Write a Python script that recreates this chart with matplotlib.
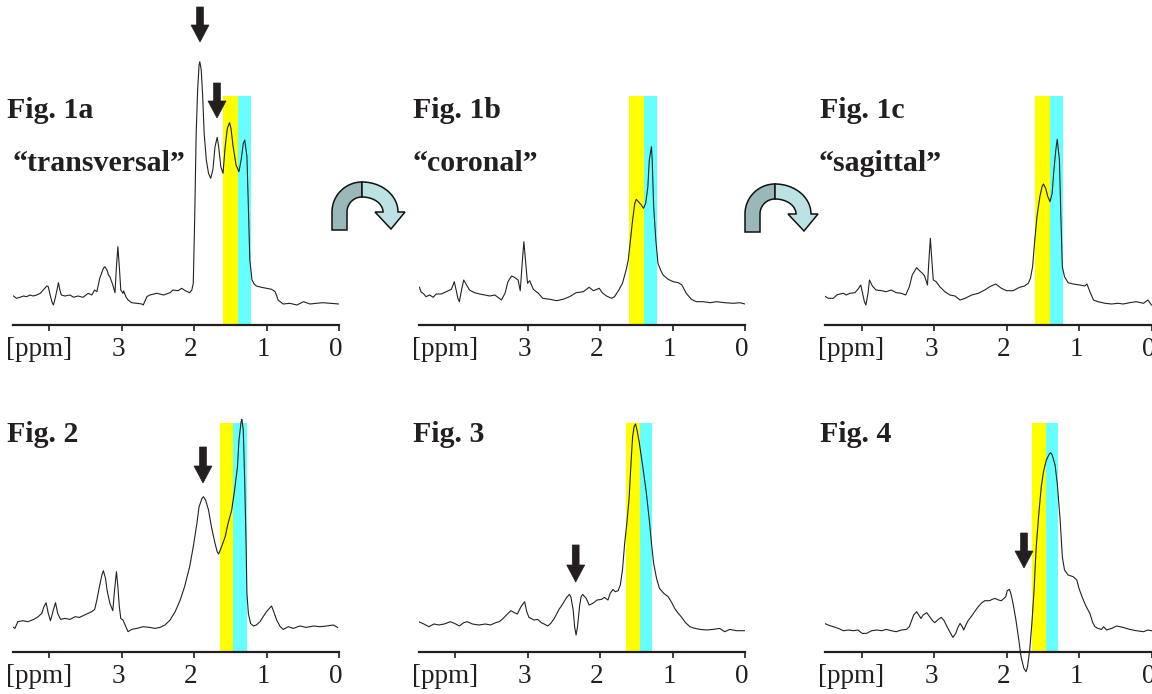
import numpy as np
import matplotlib.pyplot as plt
from matplotlib.patches import Polygon
import matplotlib.transforms as mtransforms

W, H = 1152, 694

# chemical shift [ppm] and signal height (pixels above the baseline)
ppm_1a = [4.49, 4.45, 4.40, 4.35, 4.31, 4.26, 4.22, 4.17, 4.12, 4.08, 4.03, 4.01, 3.99, 3.96,
          3.94, 3.92, 3.89, 3.87, 3.85, 3.83, 3.78, 3.71, 3.66, 3.60, 3.53, 3.46, 3.41, 3.37,
          3.34, 3.30, 3.25, 3.23, 3.20, 3.18, 3.16, 3.12, 3.09, 3.07, 3.05, 3.03, 3.01, 2.98,
          2.97, 2.94, 2.91, 2.86, 2.79, 2.72, 2.70, 2.65, 2.61, 2.51, 2.42, 2.33, 2.29, 2.22,
          2.17, 2.12, 2.06, 2.03, 2.01, 1.99, 1.97, 1.95, 1.93, 1.92, 1.90, 1.88, 1.86, 1.83,
          1.80, 1.77, 1.74, 1.71, 1.68, 1.66, 1.63, 1.60, 1.57, 1.54, 1.51, 1.49, 1.46, 1.42,
          1.38, 1.35, 1.32, 1.30, 1.27, 1.25, 1.23, 1.20, 1.17, 1.14, 1.07, 1.00, 0.93, 0.88,
          0.84, 0.77, 0.68, 0.58, 0.49, 0.40, 0.31, 0.22, 0.12, 0.00]
int_1a = [29, 26.7, 27.7, 29, 28.3, 30, 29, 30, 31.7, 35, 39, 38.3, 31.7, 23.3,
          20, 25, 35, 42.3, 35, 30, 29, 30, 27.7, 29, 27.7, 31.7, 30, 35,
          33.3, 46.7, 56.7, 58.3, 55, 50, 48.3, 40, 32.3, 58.3, 78.3, 58.3, 35, 31.7,
          34, 28.3, 25, 22.3, 21.7, 21, 20, 28.3, 30, 31.7, 30, 32.3, 35, 34.3,
          36.7, 34.3, 32.3, 35, 41.7, 108, 191.7, 235, 260, 263.3, 255, 228.3, 191.7, 165,
          151.7, 146.7, 155, 178.3, 187.7, 178.3, 158.3, 151.7, 178.3, 196.7, 202.3, 196.7, 178.3, 160,
          153.3, 165, 181.7, 185, 168.3, 118.3, 65, 45, 41, 39, 37.7, 36.7, 35.7, 33.3,
          25, 21, 21.7, 20, 23.3, 21, 21.7, 22.3, 21.7, 21]

ppm_1b = [4.49, 4.47, 4.43, 4.40, 4.35, 4.30, 4.26, 4.19, 4.12, 4.05, 4.01, 3.99, 3.96, 3.94,
          3.91, 3.88, 3.84, 3.80, 3.73, 3.66, 3.59, 3.52, 3.45, 3.39, 3.36, 3.31, 3.27, 3.22,
          3.18, 3.13, 3.10, 3.07, 3.05, 3.02, 3.00, 2.97, 2.92, 2.85, 2.79, 2.69, 2.60, 2.51,
          2.42, 2.33, 2.23, 2.15, 2.09, 2.01, 1.97, 1.91, 1.84, 1.80, 1.74, 1.69, 1.64, 1.61,
          1.58, 1.55, 1.52, 1.50, 1.47, 1.43, 1.40, 1.37, 1.34, 1.32, 1.29, 1.28, 1.26, 1.23,
          1.20, 1.16, 1.13, 1.06, 0.99, 0.92, 0.87, 0.81, 0.74, 0.67, 0.58, 0.48, 0.39, 0.28,
          0.16, 0.07, 0.00]
int_1b = [37.7, 33.3, 31, 28.3, 30, 27.7, 31, 31, 33.3, 35.7, 43.3, 36.7, 26.7, 23.3,
          35, 45, 40, 35, 32.3, 31, 30, 29, 30, 26.7, 25, 31.7, 43.3, 49,
          47.7, 45, 34.3, 65, 83.3, 58.3, 41.7, 44.3, 35.7, 31.7, 26.7, 25.7, 24.3, 25.7,
          28.3, 32.3, 33.3, 37.7, 34.3, 36.7, 32.3, 29, 26.7, 28.3, 35, 41.7, 55, 65,
          85, 105, 121.7, 125.7, 123.3, 120, 116.7, 121.7, 138.3, 165, 178.3, 165, 118.3, 85,
          61.7, 54.3, 50, 45.7, 43.3, 42.3, 40, 31.7, 25.7, 23.3, 23.3, 22.3, 23.3, 22.3,
          21.7, 22.3, 21]

ppm_1c = [4.51, 4.46, 4.39, 4.34, 4.30, 4.25, 4.21, 4.16, 4.09, 4.05, 4.01, 3.99, 3.96, 3.94,
          3.91, 3.89, 3.85, 3.80, 3.72, 3.66, 3.59, 3.52, 3.45, 3.39, 3.34, 3.30, 3.24, 3.20,
          3.16, 3.13, 3.09, 3.07, 3.05, 3.03, 3.01, 2.97, 2.92, 2.85, 2.78, 2.71, 2.64, 2.57,
          2.48, 2.39, 2.30, 2.23, 2.15, 2.07, 2.00, 1.91, 1.82, 1.75, 1.70, 1.67, 1.64, 1.61,
          1.58, 1.54, 1.51, 1.49, 1.46, 1.43, 1.40, 1.37, 1.35, 1.32, 1.30, 1.27, 1.25, 1.23,
          1.20, 1.15, 1.08, 0.99, 0.92, 0.89, 0.85, 0.80, 0.74, 0.64, 0.55, 0.46, 0.39, 0.30,
          0.21, 0.11, 0.05, 0.00]
int_1c = [29, 26.7, 26.7, 30, 31, 31.7, 30, 31.7, 32.3, 35.7, 40, 33.3, 23.3, 20,
          31.7, 45, 39, 35, 34.3, 33.3, 35, 32.3, 31.7, 30, 38.3, 50, 57.3, 54.3,
          51.7, 49, 40, 65, 86.7, 65, 45, 43.3, 38.3, 33.3, 30, 29, 25, 26.7,
          30, 31.7, 35, 38.3, 41, 36.7, 34.3, 34.3, 37.7, 39, 41.7, 46.7, 58.3, 85,
          108.3, 128.3, 138.3, 141, 136.7, 128.3, 123.3, 131.7, 151.7, 175, 185.7, 165, 108.3, 58.3,
          48.3, 42.3, 41, 40, 39, 41, 33.3, 25, 23.3, 21.7, 21, 21.7, 21, 22.3,
          23.3, 21.7, 25, 20]

ppm_2 = [4.52, 4.47, 4.43, 4.36, 4.29, 4.21, 4.15, 4.10, 4.07, 4.04, 4.01, 3.98, 3.94, 3.91,
         3.88, 3.84, 3.78, 3.71, 3.64, 3.58, 3.51, 3.41, 3.37, 3.34, 3.30, 3.27, 3.25, 3.22,
         3.20, 3.16, 3.12, 3.10, 3.07, 3.05, 3.03, 3.01, 2.98, 2.94, 2.91, 2.86, 2.79, 2.70,
         2.61, 2.54, 2.47, 2.40, 2.33, 2.26, 2.19, 2.13, 2.06, 2.01, 1.96, 1.93, 1.89, 1.87,
         1.84, 1.80, 1.76, 1.71, 1.68, 1.66, 1.62, 1.57, 1.53, 1.48, 1.44, 1.40, 1.38, 1.35,
         1.34, 1.32, 1.30, 1.28, 1.27, 1.25, 1.22, 1.18, 1.14, 1.09, 1.04, 1.00, 0.96, 0.93,
         0.90, 0.86, 0.81, 0.77, 0.70, 0.63, 0.54, 0.45, 0.35, 0.26, 0.17, 0.08, 0.02]
int_2 = [25.7, 23.3, 30, 31, 30, 32.3, 35, 38.3, 45, 49, 38.3, 31, 41.7, 49,
         38.3, 32.3, 33.3, 32.3, 35, 34.3, 36.7, 40, 42.3, 51.7, 66.7, 76.7, 81, 73.3,
         61.7, 48.3, 41, 58.3, 80, 65, 45, 33.3, 31.7, 25, 20, 22.3, 23.3, 25,
         24.3, 23.3, 24.3, 26.7, 31.7, 40, 51.7, 65, 85, 105, 128.3, 145, 153.3, 155,
         151.7, 141.7, 125, 108.3, 100, 97.7, 105, 115, 128.3, 141.7, 161.7, 185, 211.7, 230,
         232.3, 221.7, 168.3, 101.7, 58.3, 38.3, 28.3, 25.7, 26.7, 30, 35.7, 40, 43.3, 45.7,
         40, 31.7, 25, 22.3, 25, 23.3, 25.7, 24.3, 25.7, 25, 25.7, 26.7, 24.3]

ppm_3 = [4.50, 4.43, 4.36, 4.29, 4.22, 4.15, 4.06, 3.99, 3.94, 3.88, 3.83, 3.76, 3.67, 3.58,
         3.51, 3.44, 3.39, 3.35, 3.29, 3.23, 3.18, 3.14, 3.09, 3.04, 3.01, 2.98, 2.91, 2.86,
         2.81, 2.77, 2.72, 2.68, 2.63, 2.57, 2.51, 2.46, 2.42, 2.40, 2.37, 2.35, 2.33, 2.31,
         2.28, 2.26, 2.24, 2.19, 2.15, 2.10, 2.04, 1.98, 1.94, 1.89, 1.86, 1.82, 1.79, 1.75,
         1.72, 1.69, 1.66, 1.63, 1.60, 1.57, 1.55, 1.53, 1.51, 1.49, 1.46, 1.43, 1.40, 1.36,
         1.32, 1.29, 1.26, 1.22, 1.18, 1.12, 1.06, 1.01, 0.97, 0.92, 0.88, 0.82, 0.76, 0.69,
         0.62, 0.53, 0.44, 0.35, 0.28, 0.21, 0.12, -0.02]
int_3 = [30, 27.7, 25, 27.7, 26.7, 27.7, 30, 27.7, 25.7, 29, 30, 27.7, 26.7, 27.7,
         26.7, 29, 30, 32.3, 36.7, 41, 39, 37.7, 45, 50, 40, 34.3, 31.7, 32.3,
         29, 27.7, 25.7, 28.3, 33.3, 41.7, 48.3, 54.3, 57.3, 54.3, 41.7, 25, 16.7, 25,
         46.7, 55, 57.3, 53.3, 46.7, 48.3, 51.7, 52.3, 54.3, 51.7, 58.3, 62.3, 60, 61,
         66.7, 81.7, 108.3, 128.3, 151.7, 191.7, 215, 225, 227.7, 221.7, 210, 195, 180, 158.3,
         131.7, 108.3, 88.3, 73.3, 63.3, 58.3, 55, 49, 43.3, 38.3, 35, 29, 25, 23.3,
         22.3, 21.7, 22.3, 23.3, 20, 22.3, 21, 21]

ppm_4 = [4.51, 4.46, 4.39, 4.32, 4.25, 4.18, 4.11, 4.05, 3.99, 3.93, 3.86, 3.79, 3.72, 3.66,
         3.59, 3.52, 3.45, 3.38, 3.34, 3.31, 3.28, 3.24, 3.21, 3.18, 3.15, 3.10, 3.06, 3.02,
         2.99, 2.94, 2.90, 2.86, 2.82, 2.77, 2.74, 2.70, 2.67, 2.64, 2.61, 2.59, 2.56, 2.53,
         2.48, 2.44, 2.39, 2.34, 2.30, 2.23, 2.20, 2.16, 2.11, 2.07, 2.01, 1.99, 1.96, 1.94,
         1.91, 1.87, 1.83, 1.80, 1.76, 1.73, 1.71, 1.68, 1.65, 1.62, 1.59, 1.55, 1.52, 1.49,
         1.45, 1.41, 1.39, 1.37, 1.33, 1.30, 1.26, 1.23, 1.20, 1.15, 1.08, 1.03, 1.00, 0.95,
         0.90, 0.85, 0.81, 0.78, 0.74, 0.69, 0.66, 0.62, 0.55, 0.48, 0.39, 0.30, 0.21, 0.11,
         0.05, 0.00]
int_4 = [28.3, 26.7, 25, 23.3, 21, 21.7, 21, 21.7, 18.3, 18.3, 21, 21.7, 21, 22.3,
         21, 20, 21.7, 22.3, 25, 31, 36.7, 40, 36.7, 33.3, 36.7, 39, 35, 31,
         29, 32.3, 34.3, 31, 25, 18.3, 14.3, 18.3, 24.3, 28.3, 25, 21.7, 26.7, 31,
         35.7, 40, 45, 49, 51, 51, 52.3, 53.3, 51.7, 51, 55, 61, 62.3, 58.3,
         48.3, 31.7, 11.7, -5, -16.7, -20, -15, 1.7, 28.3, 61.7, 105, 141.7, 165, 180,
         191.7, 197.7, 199, 196.7, 186.7, 168.3, 131.7, 95, 81.7, 76.7, 75, 71.7, 63.3, 53.3,
         45, 38.3, 29, 25, 23.3, 22.3, 25, 21.7, 23.3, 25.7, 24.3, 22.3, 21, 20,
         21.7, 21]

ppm_ticks = [4, 3, 2, 1, 0]
tick_labels = ['[ppm]', '3', '2', '1', '0']

# yellow start, yellow/cyan boundary, cyan end [ppm]
bands_1a = [1.60, 1.40, 1.22]
bands_1b = [1.60, 1.395, 1.215]
bands_1c = [1.61, 1.405, 1.225]
bands_2 = [1.645, 1.46, 1.27]
bands_3 = [1.647, 1.453, 1.278]
bands_4 = [1.655, 1.462, 1.283]
band_height = 229

titles = ['Fig. 1a', 'Fig. 1b', 'Fig. 1c', 'Fig. 2', 'Fig. 3', 'Fig. 4']
subtitles = ['\u201ctransversal\u201d', '\u201ccoronal\u201d', '\u201csagittal\u201d']

serif = 'Liberation Serif'
ink = '#231f20'

fig = plt.figure(figsize=(W / 100, H / 100), dpi=100)

# (ppm=0 pixel x, baseline pixel y) of each spectrum
panels = [
    (ppm_1a, int_1a, bands_1a, 339.0, 325.0),
    (ppm_1b, int_1b, bands_1b, 745.0, 325.0),
    (ppm_1c, int_1c, bands_1c, 1151.5, 325.0),
    (ppm_2, int_2, bands_2, 339.0, 651.7),
    (ppm_3, int_3, bands_3, 745.0, 651.7),
    (ppm_4, int_4, bands_4, 1151.5, 651.7),
]
px_per_ppm = 72.5

for xs, ys, bands, x0, yb in panels:
    left = x0 - 4.5 * px_per_ppm
    ax = fig.add_axes([left / W, (H - yb - 30) / H, 4.5 * px_per_ppm / W, 320 / H])
    ax.set_xlim(4.5, 0)
    ax.set_ylim(-30, 290)
    ax.patch.set_visible(False)
    ax.fill_between([bands[0], bands[1]], 0, band_height, color='#ffff00', lw=0)
    ax.fill_between([bands[1], bands[2]], 0, band_height, color='#66ffff', lw=0)
    ax.plot(xs, ys, color='#222222', lw=0.8)
    for s in ['top', 'left', 'right']:
        ax.spines[s].set_visible(False)
    ax.spines['bottom'].set_position(('data', 0))
    ax.spines['bottom'].set_linewidth(1.6)
    ax.spines['bottom'].set_color(ink)
    ax.set_yticks([])
    ax.set_xticks(ppm_ticks)
    ax.set_xticklabels(tick_labels, fontfamily=serif, fontsize=19.5, color=ink)
    ax.tick_params(axis='x', direction='out', length=4, width=1.2, pad=5, color=ink)
    for i, lab in enumerate(ax.get_xticklabels()):
        dx = -10 if i == 0 else -3
        lab.set_transform(lab.get_transform() +
                          mtransforms.ScaledTranslation(dx / 100, 0, fig.dpi_scale_trans))

# overlay in pixel coordinates for labels and arrows
ov = fig.add_axes([0, 0, 1, 1], zorder=5)
ov.set_xlim(0, W)
ov.set_ylim(H, 0)
ov.axis('off')

title_pos = [(7, 118), (413, 118), (820, 118), (7, 442), (413, 442), (820, 442)]
for t, (x, y) in zip(titles, title_pos):
    ov.text(x, y, t, fontfamily=serif, fontweight='bold', fontsize=21.5, color=ink, va='baseline')
for t, (x, y) in zip(subtitles, [(12, 171), (413, 171), (818, 171)]):
    ov.text(x, y, t, fontfamily=serif, fontweight='bold', fontsize=21.5, color=ink, va='baseline')


def down_arrow(x, top, tip):
    neck = tip - 17
    pts = [(x - 3.4, top), (x + 3.4, top), (x + 3.4, neck), (x + 9, neck), (x, tip),
           (x - 9, neck), (x - 3.4, neck)]
    ov.add_patch(Polygon(pts, closed=True, facecolor=ink, edgecolor=ink, lw=0.5))


for x, top, tip in [(200, 7, 42), (217, 83, 118), (203, 447, 483), (575.7, 545, 582), (1024, 533, 568)]:
    down_arrow(x, top, tip)


def curved_arrow(x0, y0):
    cx, cy = x0 + 30, y0 - 18
    t = np.linspace(np.pi, np.pi / 2, 40)
    outer = np.c_[cx + 30 * np.cos(t), cy - 30 * np.sin(t)]
    inner = np.c_[cx + 15 * np.cos(t[::-1]), cy - 15 * np.sin(t[::-1])]
    dark = np.vstack([[cx - 30, y0], outer, inner, [cx - 15, y0]])
    t2 = np.linspace(np.pi / 2, 0, 40)
    outer2 = np.c_[cx + 36 * np.cos(t2), cy - 30 * np.sin(t2)]
    inner2 = np.c_[cx + 21 * np.cos(t2[::-1]), cy - 15 * np.sin(t2[::-1])]
    head = np.array([[cx + 43, cy], [cx + 29, y0 - 1], [cx + 13, cy]])
    light = np.vstack([outer2, head, inner2])
    ov.add_patch(Polygon(dark, closed=True, facecolor='#9ab8ba', edgecolor='#111111', lw=1.1))
    ov.add_patch(Polygon(light, closed=True, facecolor='#bde2e3', edgecolor='#111111', lw=1.1))


curved_arrow(332, 230)
curved_arrow(745, 232)

fig.savefig('out.png', dpi=100)
